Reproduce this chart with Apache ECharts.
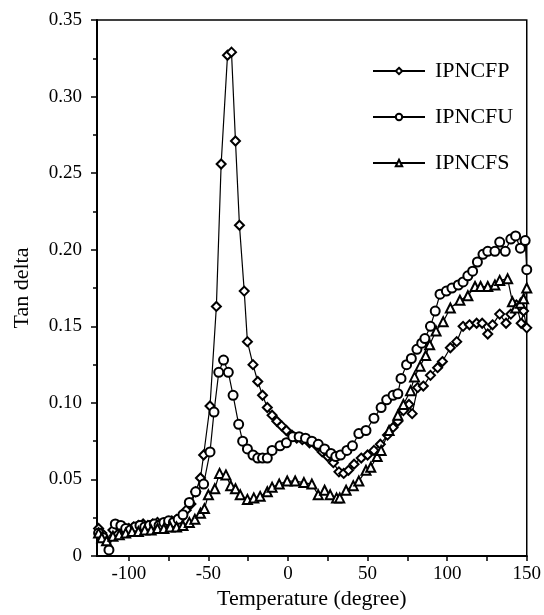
<!DOCTYPE html>
<html>
<head>
<meta charset="utf-8">
<script src="https://cdn.jsdelivr.net/npm/echarts@6/dist/echarts.min.js"></script>
<style>
html, body { margin: 0; padding: 0; background: #fff; }
#main { width: 544px; height: 615px; }
</style>
</head>
<body>
<div id="main"></div>
<script>
// IPNCFP (diamonds) [temperature, tan delta]
var dataFP = [
  [-119, 0.018], [-117, 0.015], [-114, 0.010], [-110, 0.017], [-106, 0.019], [-103, 0.017],
  [-100, 0.018], [-97, 0.019], [-94, 0.020], [-91, 0.021], [-88, 0.020], [-85, 0.021],
  [-82, 0.022], [-79, 0.021], [-76, 0.022], [-73, 0.023], [-70, 0.024], [-67, 0.025],
  [-64, 0.030], [-61, 0.034], [-58, 0.042], [-55, 0.051], [-53, 0.066], [-49, 0.098],
  [-45, 0.163], [-42, 0.256], [-38, 0.327], [-35.5, 0.329], [-33, 0.271], [-30.5, 0.216],
  [-27.5, 0.173], [-25.5, 0.140], [-22, 0.125], [-19, 0.114], [-16, 0.105], [-13, 0.097],
  [-10, 0.092], [-7, 0.088], [-4, 0.085], [-1, 0.082], [2.5, 0.079], [5.5, 0.077],
  [9, 0.076], [13.5, 0.074], [18, 0.072], [21.5, 0.068], [25, 0.065], [28.5, 0.061],
  [32, 0.055], [35, 0.054], [38, 0.056], [41.5, 0.060], [46, 0.064], [50, 0.066],
  [54, 0.069], [58, 0.073], [62.5, 0.079], [66, 0.084], [69, 0.088], [72.5, 0.095],
  [76, 0.099], [78, 0.093], [81.5, 0.110], [85, 0.111], [89.5, 0.118], [94, 0.123],
  [97, 0.127], [102, 0.136], [106, 0.140], [110, 0.150], [114, 0.151], [118.5, 0.152],
  [122, 0.152], [125.5, 0.145], [128.5, 0.151], [133, 0.158], [137, 0.152], [140, 0.158],
  [143.5, 0.164], [146.5, 0.152], [148, 0.160], [150, 0.149]
];
// IPNCFU (circles)
var dataFU = [
  [-119, 0.015], [-116, 0.012], [-112.5, 0.004], [-108.5, 0.021], [-105, 0.020], [-102, 0.018],
  [-99, 0.017], [-96, 0.019], [-93, 0.020], [-90, 0.019], [-87, 0.020], [-84, 0.021],
  [-81, 0.020], [-78, 0.022], [-75, 0.023], [-72, 0.022], [-69, 0.024], [-66, 0.027],
  [-62, 0.035], [-58, 0.042], [-53, 0.047], [-49, 0.068], [-46.5, 0.094], [-43.5, 0.120],
  [-40.5, 0.128], [-37.5, 0.120], [-34.5, 0.105], [-31, 0.086], [-28.5, 0.075], [-25.5, 0.070],
  [-22, 0.066], [-19, 0.064], [-16, 0.064], [-13, 0.064], [-10, 0.069], [-5, 0.072],
  [-1, 0.074], [3, 0.078], [7, 0.078], [11, 0.077], [15, 0.075], [19, 0.073],
  [23, 0.070], [27, 0.067], [30, 0.065], [33, 0.066], [37, 0.069], [40.5, 0.072],
  [44.5, 0.080], [49, 0.082], [54, 0.090], [58.5, 0.097], [62, 0.102], [66, 0.105],
  [69, 0.106], [71, 0.116], [74.5, 0.125], [77.5, 0.129], [81, 0.135], [84, 0.139],
  [86, 0.142], [89.5, 0.150], [92.5, 0.160], [95.5, 0.171], [99.5, 0.173], [103, 0.175],
  [107, 0.177], [110, 0.179], [113, 0.183], [116, 0.186], [119, 0.192], [122.5, 0.197],
  [125.5, 0.199], [130, 0.199], [133, 0.205], [136.5, 0.199], [140, 0.207], [143, 0.209],
  [146, 0.201], [149, 0.206], [150, 0.187]
];
// IPNCFS (triangles)
var dataFS = [
  [-119, 0.015], [-117, 0.012], [-114, 0.010], [-110, 0.013], [-106, 0.014], [-102, 0.015],
  [-98, 0.016], [-94, 0.016], [-90, 0.017], [-86, 0.017], [-82, 0.018], [-78, 0.018],
  [-74, 0.019], [-70, 0.019], [-66, 0.020], [-62, 0.022], [-58.5, 0.024], [-55, 0.028],
  [-52.5, 0.031], [-50, 0.040], [-46, 0.044], [-43, 0.054], [-39, 0.053], [-36, 0.046],
  [-33, 0.044], [-30, 0.040], [-25.5, 0.037], [-21.5, 0.038], [-17.5, 0.039], [-13, 0.042],
  [-10, 0.045], [-5.5, 0.047], [-0.5, 0.049], [4.5, 0.049], [10, 0.048], [15, 0.047],
  [19, 0.040], [23, 0.043], [26.5, 0.040], [30.5, 0.038], [32.5, 0.038], [36.5, 0.043],
  [41, 0.046], [44.5, 0.049], [49, 0.056], [52, 0.058], [56, 0.065], [58.5, 0.069],
  [63.5, 0.082], [69, 0.092], [72.5, 0.099], [77, 0.108], [79.5, 0.117], [83, 0.124],
  [86.5, 0.131], [89, 0.138], [93, 0.147], [97.5, 0.153], [102, 0.162], [108, 0.167],
  [113, 0.170], [117.5, 0.176], [121, 0.176], [125.5, 0.176], [130, 0.177], [133, 0.180],
  [138, 0.181], [141, 0.166], [143, 0.162], [146, 0.165], [148, 0.168], [150, 0.175]
];

var xLabels = [-100, -50, 0, 50, 100, 150];
var xTicks = [-100, -75, -50, -25, 0, 25, 50, 75, 100, 125, 150];

var font = 'Liberation Serif';
var chart = echarts.init(document.getElementById('main'));

function mkSeries(name, data, symbol) {
  return {
    name: name,
    type: 'line',
    data: data,
    symbol: symbol,
    symbolSize: 9,
    showAllSymbol: true,
    lineStyle: { color: '#000', width: 1.2 },
    itemStyle: { color: '#000', borderWidth: 1.4 },
    animation: false
  };
}

chart.setOption({
  backgroundColor: '#fff',
  animation: false,
  grid: {
    left: 97, right: 14, top: 20, bottom: 56,
    show: true, borderColor: '#000', borderWidth: 1.5, backgroundColor: 'transparent'
  },
  legend: {
    orient: 'vertical',
    left: 367, top: 55,
    itemWidth: 52, itemHeight: 8,
    itemGap: 24,
    textStyle: { fontFamily: font, fontSize: 22, color: '#000', padding: [0, 0, 0, 5] },
    data: ['IPNCFP', 'IPNCFU', 'IPNCFS']
  },
  xAxis: {
    type: 'value',
    min: -120, max: 150,
    name: 'Temperature (degree)',
    nameLocation: 'middle', nameGap: 26,
    nameTextStyle: { fontFamily: font, fontSize: 22, color: '#000' },
    axisLine: { lineStyle: { color: '#000', width: 2 } },
    axisTick: { customValues: xTicks, length: 5, lineStyle: { color: '#000', width: 1.5 } },
    axisLabel: { customValues: xLabels, fontFamily: font, fontSize: 19, color: '#000', margin: 8 },
    splitLine: { show: false }
  },
  yAxis: {
    type: 'value',
    min: 0, max: 0.35, interval: 0.05,
    name: 'Tan delta',
    nameLocation: 'middle', nameGap: 64, nameRotate: 90,
    nameTextStyle: { fontFamily: font, fontSize: 22, color: '#000' },
    axisLine: { onZero: false, lineStyle: { color: '#000', width: 2 } },
    axisTick: { length: 6, lineStyle: { color: '#000', width: 1.5 } },
    minorTick: { show: true, splitNumber: 2, length: 4, lineStyle: { color: '#000', width: 1.5 } },
    axisLabel: {
      fontFamily: font, fontSize: 19, color: '#000', margin: 15,
      formatter: function (v) { return v === 0 ? '0' : v.toFixed(2); }
    },
    splitLine: { show: false }
  },
  series: [
    mkSeries('IPNCFP', dataFP, 'emptyDiamond'),
    mkSeries('IPNCFU', dataFU, 'emptyCircle'),
    mkSeries('IPNCFS', dataFS, 'emptyTriangle')
  ]
});
</script>
</body>
</html>
